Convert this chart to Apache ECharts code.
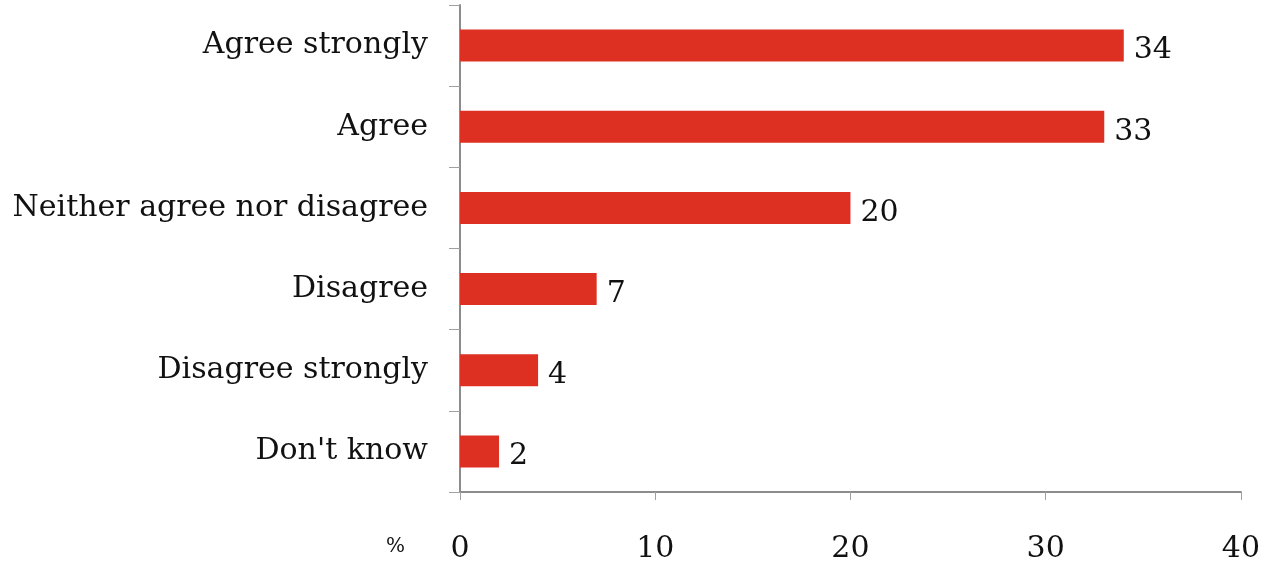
<!DOCTYPE html>
<html><head><meta charset="utf-8">
<script src="https://cdn.jsdelivr.net/npm/echarts@6/dist/echarts.min.js"></script>
<style>html,body{margin:0;padding:0;background:#fff}#c{width:1263px;height:567px}</style>
</head><body><div id="c"></div>
<script>
const categories = ["Agree strongly", "Agree", "Neither agree nor disagree", "Disagree", "Disagree strongly", "Don't know"];
const values = [34, 33, 20, 7, 4, 2];
const xTicks = [0, 10, 20, 30, 40];
const unitLabel = "%";

const FONT = "DejaVu Serif";
const chart = echarts.init(document.getElementById('c'), null, {renderer: 'canvas'});
chart.setOption({
  animation: false,
  backgroundColor: '#fff',
  grid: {left: 460, right: 22, top: 5, bottom: 75, containLabel: false},
  xAxis: {
    type: 'value', min: xTicks[0], max: xTicks[xTicks.length - 1], interval: 10,
    axisLine: {show: true, lineStyle: {color: '#8c8c8c', width: 2}},
    axisTick: {show: true, length: 8, lineStyle: {color: '#a0a0a0', width: 1}},
    splitLine: {show: false},
    axisLabel: {margin: 42, color: '#111', fontFamily: FONT, fontSize: 30}
  },
  yAxis: {
    type: 'category', data: categories, inverse: true,
    axisLine: {show: true, lineStyle: {color: '#8c8c8c', width: 2}},
    axisTick: {show: true, length: 11, alignWithLabel: false, lineStyle: {color: '#a0a0a0', width: 1}},
    axisLabel: {margin: 32, color: '#111', fontFamily: FONT, fontSize: 30}
  },
  series: [{
    type: 'bar', data: values, barWidth: 32,
    itemStyle: {color: '#dd3022'},
    label: {show: true, position: 'right', distance: 10, color: '#111', fontFamily: FONT, fontSize: 30, offset: [0, 5]}
  }],
  graphic: [{
    type: 'text', left: 386, top: 537,
    style: {text: unitLabel, fill: '#111', font: '20px "' + FONT + '"'}
  }]
});
</script></body></html>
